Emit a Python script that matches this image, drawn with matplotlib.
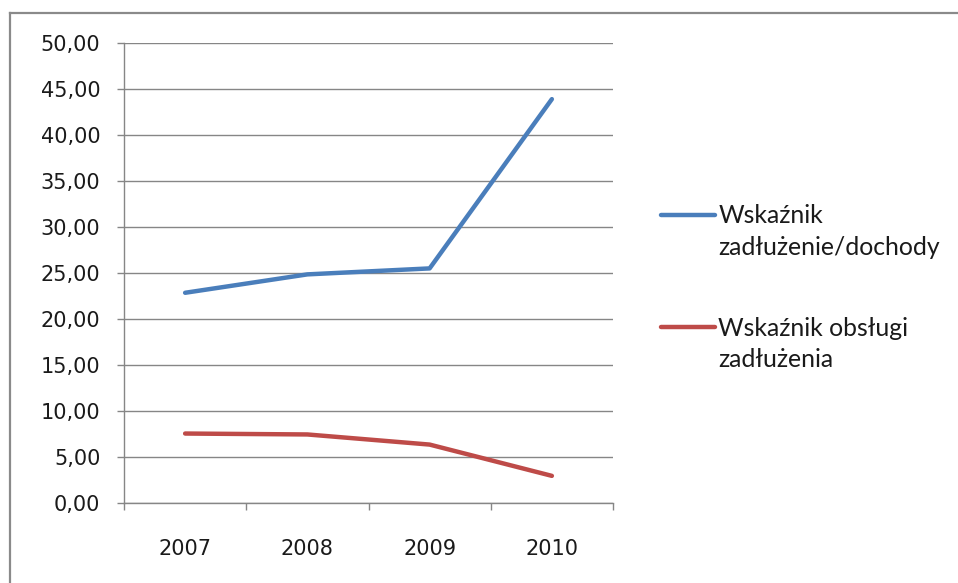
import numpy as np
import matplotlib
matplotlib.use("Agg")
from matplotlib import pyplot as plt
from matplotlib.lines import Line2D
from matplotlib.legend_handler import HandlerLine2D

years = ['2007', '2008', '2009', '2010']
debt_income = [22.85, 24.85, 25.5, 43.9]
debt_service = [7.55, 7.45, 6.35, 2.95]
labels = ['Wskaźnik\nzadłużenie/dochody', 'Wskaźnik obsługi\nzadłużenia']
y_ticks = np.arange(0, 51, 5)

blue = '#4a7ebb'
red = '#be4b48'
grey = '#868686'


class FirstLineHandler(HandlerLine2D):
    # put the legend line next to the first text line instead of the last
    shift = 0.0

    def create_artists(self, legend, orig_handle, xdescent, ydescent,
                       width, height, fontsize, trans):
        arts = super().create_artists(legend, orig_handle, xdescent, ydescent,
                                      width, height, fontsize, trans)
        for a in arts:
            a.set_ydata(np.asarray(a.get_ydata()) + self.shift)
        return arts


fig = plt.figure(figsize=(9.58, 5.83), dpi=100)
ax = fig.add_axes([124/958, (583-503)/583, (613-124)/958, 460/583])

x = np.arange(len(years))
l1, = ax.plot(x, debt_income, color=blue, lw=3.2, solid_capstyle='round')
l2, = ax.plot(x, debt_service, color=red, lw=3.2, solid_capstyle='round')

ax.set_xlim(-0.5, len(years) - 0.5)
ax.set_ylim(0, 50)
ax.set_yticks(y_ticks)
ax.set_yticklabels([f'{v:.2f}'.replace('.', ',') for v in y_ticks],
                   family='DejaVu Sans', fontsize=15, color='#1a1a1a')
ax.yaxis.grid(True, color=grey, lw=1)
ax.tick_params(axis='y', length=5, width=1, color=grey, pad=12)

ax.set_xticks(np.arange(-0.5, len(years)), labels=[])
ax.set_xticks(x, minor=True)
ax.set_xticklabels(years, minor=True, family='DejaVu Sans', fontsize=15,
                   color='#1a1a1a')
ax.tick_params(axis='x', which='major', length=5, width=1, color=grey,
               direction='out')
ax.tick_params(axis='x', which='minor', length=0, pad=26)

for s in ['top', 'right']:
    ax.spines[s].set_visible(False)
for s in ['left', 'bottom']:
    ax.spines[s].set_color(grey)
    ax.spines[s].set_linewidth(1)

fs = 17.8
h = FirstLineHandler()
h.shift = fs * 0.7
leg = ax.legend([l1, l2], labels, loc='upper left',
                bbox_to_anchor=(661/958, 1 - 204/583),
                bbox_transform=fig.transFigure,
                frameon=False, handlelength=2.2,
                handletextpad=0.12, labelspacing=2.35,
                borderpad=0, borderaxespad=0,
                prop={'family': 'Lato', 'size': fs},
                handler_map={Line2D: h})
for t in leg.get_texts():
    t.set_linespacing(1.45)
    t.set_color('#1a1a1a')

# outer frame (only left and top edges visible)
fig.add_artist(Line2D([10/958, 10/958], [0, 1 - 13/583],
                      transform=fig.transFigure, color='#8a8a8a', lw=1.6))
fig.add_artist(Line2D([10/958, 1], [1 - 13/583, 1 - 13/583],
                      transform=fig.transFigure, color='#8a8a8a', lw=1.6))

fig.savefig('out.png', dpi=100)
